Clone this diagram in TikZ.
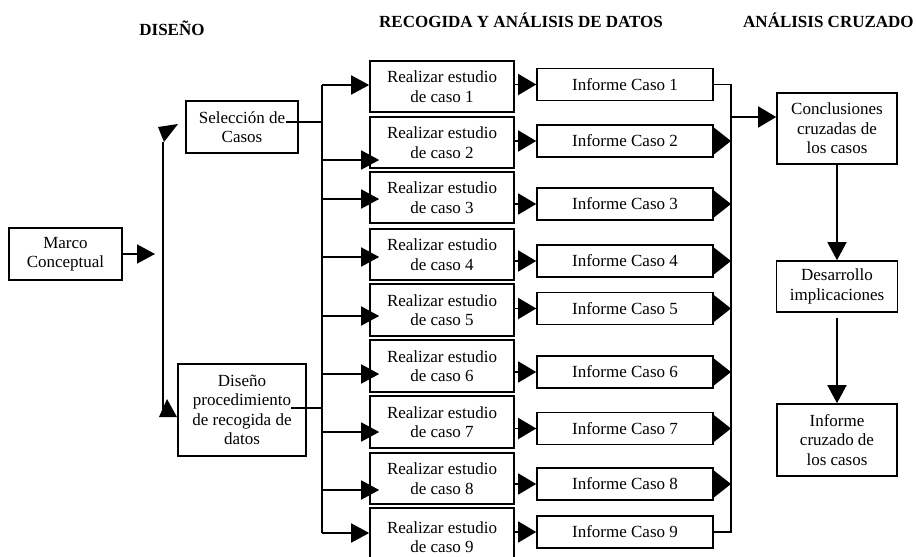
\documentclass[tikz,border=0pt]{standalone}
\usepackage{fontspec}
\setmainfont{Liberation Serif}
\usetikzlibrary{arrows.meta,calc}
\begin{document}
\begin{tikzpicture}[x=1pt,y=-1pt,
  box/.style={draw,line width=1.6pt,align=center,inner sep=0pt,font=\fontsize{17}{19.5}\selectfont},
  conn/.style={line width=1.6pt},
  arr/.style={conn,-{Triangle[length=18pt,width=19pt]}},
  arrw/.style={conn,-{Triangle[length=18pt,width=21pt]}},
  arrb/.style={conn,-{Triangle[length=18pt,width=28pt]}},
  ttl/.style={inner sep=0pt,font=\fontsize{17}{19}\selectfont\bfseries}]
\useasboundingbox (0,0) rectangle (916,557);
\clip (0,0) rectangle (916,557);

% titles
\node[ttl] (t1) at (172,28) {DISEÑO};
\node[ttl,anchor=west] (t2) at (379,20) {RECOGIDA Y ANÁLISIS DE DATOS};
\node[ttl,anchor=west] (t3) at (743,20) {ANÁLISIS CRUZADO};

% design column
\node[box,minimum width=113pt,minimum height=52pt] (marco) at (65.5,254) {Marco\\Conceptual};
\node[box,minimum width=112pt,minimum height=52pt] (sel) at (242,127) {Selección de\\Casos};
\node[box,minimum width=128pt,minimum height=92pt] (dis) at (242,410) {Diseño\\procedimiento\\de recogida de\\datos};

% case study boxes
\foreach \i/\y/\h in {1/86.5/51,2/142.5/51,3/197.5/51,4/254.5/51,5/310/52,6/366/52,7/422/52,8/478.5/51,9/537/58}
  \node[box,minimum width=144pt,minimum height=\h pt] (r\i) at (442,\y) {Realizar estudio\\de caso \i};

% report boxes
\foreach \i/\y in {1/84.5,2/141,3/204,4/261,5/308.5,6/372,7/428.5,8/484,9/532}
  \node[box,minimum width=176pt,minimum height=32pt] (inf\i) at (625,\y) {Informe Caso \i};

% cross analysis
\node[box,minimum width=120pt,minimum height=71pt] (concl) at (837,128.5) {Conclusiones\\cruzadas de\\los casos};
\node[box,minimum width=121pt,minimum height=51pt] (des) at (837,286.5) {Desarrollo\\implicaciones};
\node[box,minimum width=120pt,minimum height=72pt] (icz) at (837,440) {Informe\\cruzado de\\los casos};

% left connectors
\coordinate (mt) at (155,254);
\draw[arr] (marco.east) -- (mt);
\coordinate (vt) at (163,142);
\coordinate (vb) at (163,410);
\draw[conn] (vt) -- (vb);
\fill (158,127) -- (178,124) -- (164,142) -- cycle;
\fill (167,399) -- (159,417) -- (177,417) -- cycle;

% bus to case studies
\foreach \i/\y in {1/85,2/160,3/199,4/257,5/316,6/374,7/432,8/490,9/533}
  \coordinate (b\i) at (322,\y);
\coordinate (sj) at (322,122);
\coordinate (dj) at (322,408);
\draw[conn] (b1) -- (b9);
\draw[conn] ([xshift=-13pt,yshift=5pt]sel.east) -- (sj);
\draw[conn] ([xshift=-16pt,yshift=2pt]dis.east) -- (dj);
\draw[arr] (b1) -- (r1.west |- b1);
\foreach \i in {2,...,8}
  \draw[arr] (b\i) -- ($(r\i.west |- b\i)+(10,0)$);
\draw[arr] (b9) -- (r9.west |- b9);

% case study to report
\foreach \i in {1,...,9}
  \draw[arrw] (r\i.east |- inf\i) -- (inf\i.west);

% right bus
\coordinate (rbt) at (731,84.5);
\coordinate (rbb) at (731,532);
\draw[conn] (inf1.east) -- (rbt) -- (rbb) -- (inf9.east);
\foreach \i in {2,...,8}
  \draw[arrb] (inf\i.east) -- (inf\i.east -| rbt);
\coordinate (cb) at (731,117);
\draw[arrw] (cb) -- (concl.west |- cb);

% cross analysis chain
\draw[arr] (concl.south) -- (des.north);
\draw[arr] ([yshift=-5pt]des.south) -- (icz.north);
\end{tikzpicture}
\end{document}
